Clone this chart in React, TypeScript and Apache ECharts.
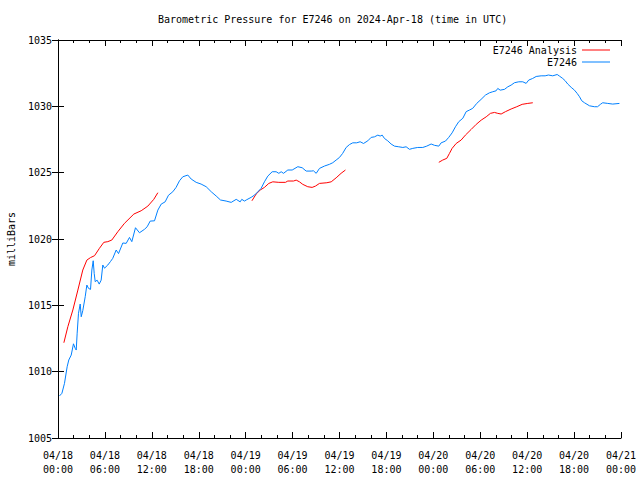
import React, { useEffect, useRef } from "react";
import * as echarts from "echarts";

const titleText = "Barometric Pressure for E7246 on 2024-Apr-18 (time in UTC)";
const yAxisName = "milliBars";
const seriesNames = ["E7246 Analysis", "E7246"];

// x tick labels (hours since 2024-04-18 00:00 UTC, every 6 h)
const xTickDates = ["04/18", "04/18", "04/18", "04/18", "04/19", "04/19", "04/19", "04/19", "04/20", "04/20", "04/20", "04/20", "04/21"];
const xTickTimes = ["00:00", "06:00", "12:00", "18:00", "00:00", "06:00", "12:00", "18:00", "00:00", "06:00", "12:00", "18:00", "00:00"];

// E7246 observations: hours since start, pressure (mb)
const obsHours = [
  0.19, 0.5, 0.83, 1.17, 1.38, 1.69, 1.98, 2.2, 2.33, 2.45, 2.62, 2.84, 2.97, 3.17, 3.48, 3.69, 3.9, 4.16, 4.33, 4.5,
  4.63, 4.76, 5.0, 5.27, 5.52, 5.73, 5.95, 6.37, 6.71, 7.0, 7.44, 7.74, 8.29, 8.72, 9.14, 9.44, 9.91, 10.42, 11.06, 11.4,
  11.79, 12.34, 12.77, 13.2, 13.7, 14.13, 14.68, 15.1, 15.54, 15.96, 16.6, 17.03, 17.67, 18.3, 18.95, 19.6, 20.23, 20.78, 21.5, 22.15,
  22.79, 23.3, 23.5, 23.85, 24.07, 24.7, 25.13, 25.55, 25.98, 26.4, 26.83, 27.39, 27.9, 28.24, 28.54, 28.84, 29.39, 29.95, 30.67, 31.23,
  31.74, 32.38, 32.67, 33.02, 33.44, 34.08, 34.72, 35.14, 35.57, 36.0, 36.4, 36.85, 37.28, 37.7, 38.2, 38.64, 39.07, 39.62, 40.05, 40.47,
  40.9, 41.2, 41.46, 41.75, 42.17, 42.6, 43.03, 43.58, 44.1, 44.52, 44.95, 45.37, 46.0, 46.65, 47.16, 47.72, 48.15, 48.7, 49.0, 49.55,
  49.97, 50.4, 50.83, 51.25, 51.77, 52.2, 52.62, 53.04, 53.55, 54.1, 54.67, 55.18, 55.6, 56.03, 56.24, 56.55, 57.1, 57.52, 57.95, 58.38,
  58.93, 59.44, 59.87, 60.2, 60.7, 61.15, 61.79, 62.3, 62.72, 63.27, 63.84, 64.13, 64.55, 64.86, 65.19, 65.63, 66.05, 66.4, 66.7, 66.98,
  67.33, 67.97, 68.6, 69.0, 69.37, 69.66, 70.3, 70.94, 71.8,
];
const obsPressure = [
  1008.17, 1008.37, 1009.12, 1010.37, 1010.88, 1011.25, 1012.1, 1011.76, 1011.63, 1012.9, 1014.4, 1015.1, 1014.14, 1014.6, 1015.65, 1016.53, 1016.28, 1016.2, 1017.66, 1018.36,
  1017.4, 1016.78, 1016.9, 1016.6, 1016.9, 1018.04, 1017.8, 1018.04, 1018.3, 1018.54, 1019.17, 1018.9, 1019.7, 1019.67, 1020.12, 1019.8, 1020.85, 1020.47, 1020.73, 1020.92,
  1021.35, 1021.37, 1022.18, 1022.63, 1022.8, 1023.3, 1023.56, 1023.89, 1024.39, 1024.69, 1024.82, 1024.52, 1024.27, 1024.14, 1023.94, 1023.56, 1023.24, 1022.94, 1022.86, 1022.76,
  1022.99, 1022.8, 1022.99, 1022.86, 1022.94, 1023.14, 1023.31, 1023.56, 1023.82, 1024.31, 1024.74, 1025.07, 1025.07, 1024.95, 1025.07, 1024.95, 1025.2, 1025.2, 1025.45, 1025.37,
  1025.12, 1025.12, 1025.14, 1024.95, 1025.32, 1025.5, 1025.63, 1025.75, 1025.95, 1026.15, 1026.45, 1026.9, 1027.12, 1027.25, 1027.25, 1027.33, 1027.2, 1027.4, 1027.66, 1027.7,
  1027.83, 1027.76, 1027.83, 1027.58, 1027.4, 1027.16, 1027.0, 1026.95, 1026.9, 1026.95, 1026.76, 1026.83, 1026.9, 1026.9, 1027.0, 1027.16, 1027.06, 1027.0, 1027.25, 1027.38,
  1027.66, 1028.0, 1028.46, 1028.84, 1029.1, 1029.6, 1029.72, 1029.85, 1030.22, 1030.52, 1030.85, 1031.02, 1031.1, 1031.17, 1031.35, 1031.22, 1031.28, 1031.47, 1031.6, 1031.78,
  1031.85, 1031.85, 1031.73, 1031.98, 1032.1, 1032.25, 1032.3, 1032.3, 1032.36, 1032.3, 1032.4, 1032.28, 1032.1, 1031.93, 1031.68, 1031.43, 1031.22, 1030.97, 1030.72, 1030.42,
  1030.27, 1030.04, 1029.97, 1029.97, 1030.15, 1030.27, 1030.22, 1030.17, 1030.22,
];

// E7246 Analysis: three runs separated by gaps (null)
const anaHours = [
  0.75, 1.26, 1.9, 2.54, 3.17, 3.69, 4.16, 4.67, 5.3, 5.86, 6.37, 6.88, 7.65, 8.5, 9.7, 10.64, 11.49, 12.25, 12.77,
  18.0,
  24.8, 25.34, 25.86, 26.4, 26.96, 27.47, 28.24, 29.09, 29.39, 30.12, 30.46, 30.88, 31.3, 31.94, 32.5, 32.93, 33.44, 34.38, 34.94, 35.57, 36.2, 36.76,
  42.0,
  48.7, 49.2, 49.72, 50.06, 50.4, 50.92, 51.56, 52.1, 52.84, 53.48, 54.12, 54.76, 55.3, 55.82, 56.24, 56.67, 57.23, 57.95, 58.67, 59.36, 60.08, 60.72,
];
const anaPressure = [
  1012.18, 1013.39, 1014.65, 1016.15, 1017.66, 1018.41, 1018.6, 1018.74, 1019.3, 1019.75, 1019.8, 1019.92, 1020.55, 1021.18, 1021.88, 1022.13, 1022.48, 1022.99, 1023.49,
  null,
  1022.88, 1023.39, 1023.69, 1023.89, 1024.19, 1024.31, 1024.27, 1024.27, 1024.37, 1024.37, 1024.44, 1024.31, 1024.12, 1023.94, 1023.89, 1023.99, 1024.19, 1024.24, 1024.31, 1024.61, 1024.95, 1025.2,
  null,
  1025.78, 1025.95, 1026.08, 1026.45, 1026.83, 1027.2, 1027.46, 1027.83, 1028.26, 1028.64, 1028.96, 1029.21, 1029.47, 1029.54, 1029.47, 1029.42, 1029.6, 1029.8, 1029.97, 1030.15, 1030.22, 1030.27,
];

const FONT = "DejaVu Sans Mono";

export default function App() {
  const ref = useRef<HTMLDivElement>(null);
  useEffect(() => {
    document.body.style.margin = "0";
    if (!ref.current) return;
    const chart = echarts.init(ref.current, undefined, { renderer: "svg" });
    const obsData = obsHours.map((h, i) => [h, obsPressure[i]]);
    const anaData = anaHours.map((h, i) => [h, anaPressure[i]]);
    const tickCommon = {
      axisLine: { show: true, lineStyle: { color: "#000", width: 1 } },
      axisTick: { show: true, inside: true, length: 6, lineStyle: { color: "#000" } },
      splitLine: { show: false },
    };
    const xCommon = {
      type: "value" as const,
      min: 0,
      max: 72,
      interval: 6,
      ...tickCommon,
      minorTick: { show: true, splitNumber: 3, length: 3, lineStyle: { color: "#000" } },
    };
    const yCommon = {
      type: "value" as const,
      min: 1005,
      max: 1035,
      interval: 5,
      ...tickCommon,
    };
    chart.setOption({
      animation: false,
      backgroundColor: "#fff",
      title: {
        text: titleText,
        left: 158,
        top: 14,
        padding: 0,
        textStyle: { fontFamily: FONT, fontSize: 10, fontWeight: "normal", color: "#000" },
      },
      legend: [
        {
          data: [seriesNames[0]],
          right: 30,
          top: 45,
          padding: 0,
          align: "right",
          icon: "rect",
          itemWidth: 28,
          itemHeight: 1,
          textStyle: { fontFamily: FONT, fontSize: 10, color: "#000" },
        },
        {
          data: [seriesNames[1]],
          right: 30,
          top: 57,
          padding: 0,
          align: "right",
          icon: "rect",
          itemWidth: 28,
          itemHeight: 1,
          textStyle: { fontFamily: FONT, fontSize: 10, color: "#000" },
        },
      ],
      grid: { left: 58, right: 19, top: 40, bottom: 42, containLabel: false, outerBoundsMode: "none" },
      xAxis: [
        {
          ...xCommon,
          position: "bottom",
          axisLabel: {
            show: true,
            margin: 10,
            fontFamily: FONT,
            fontSize: 10,
            lineHeight: 14,
            color: "#000",
            formatter: (v: number) => {
              const i = Math.round(v / 6);
              return xTickDates[i] + "\n" + xTickTimes[i];
            },
          },
        },
        { ...xCommon, position: "top", axisLabel: { show: false } },
      ],
      yAxis: [
        {
          ...yCommon,
          position: "left",
          name: yAxisName,
          nameLocation: "middle",
          nameGap: 42,
          nameTextStyle: { fontFamily: FONT, fontSize: 10, color: "#000" },
          axisLabel: {
            show: true,
            margin: 6,
            fontFamily: FONT,
            fontSize: 10,
            color: "#000",
            formatter: (v: number) => String(v),
          },
        },
        { ...yCommon, position: "right", axisLabel: { show: false } },
      ],
      series: [
        {
          name: seriesNames[0],
          type: "line",
          data: anaData,
          showSymbol: false,
          symbol: "none",
          connectNulls: false,
          lineStyle: { color: "#ff0000", width: 1 },
          itemStyle: { color: "#ff0000" },
        },
        {
          name: seriesNames[1],
          type: "line",
          data: obsData,
          showSymbol: false,
          symbol: "none",
          lineStyle: { color: "#0080ff", width: 1 },
          itemStyle: { color: "#0080ff" },
        },
      ],
    });
    return () => chart.dispose();
  }, []);
  return <div ref={ref} style={{ width: 640, height: 480 }} />;
}
